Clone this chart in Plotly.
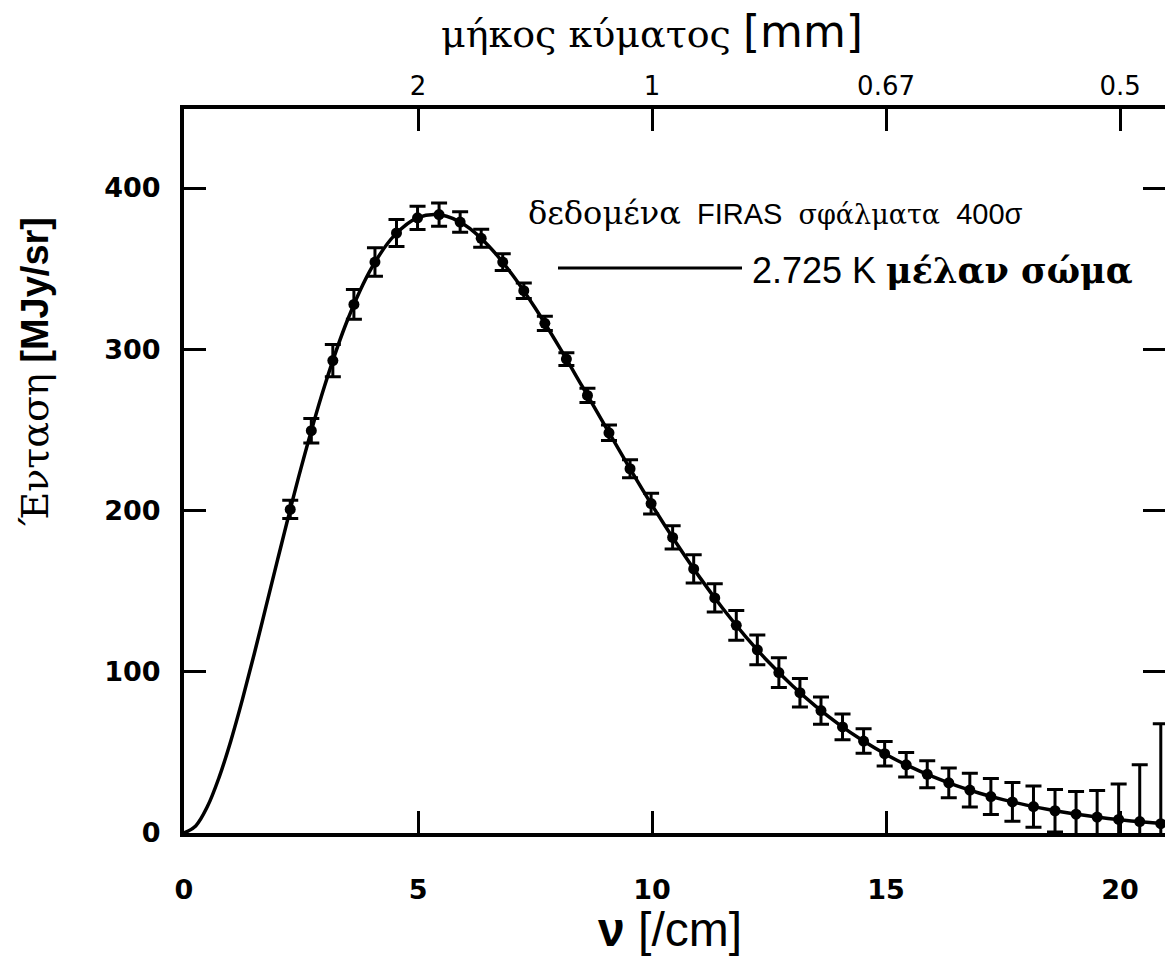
import plotly.graph_objects as go

# FIRAS data
nu = [2.27, 2.72, 3.18, 3.63, 4.08, 4.54, 4.99, 5.45, 5.90, 6.35, 6.81, 7.26, 7.71, 8.17,
      8.62, 9.08, 9.53, 9.98, 10.44, 10.89, 11.34, 11.80, 12.25, 12.71, 13.16, 13.61,
      14.07, 14.52, 14.97, 15.43, 15.88, 16.34, 16.79, 17.24, 17.70, 18.15, 18.61, 19.06,
      19.51, 19.97, 20.42, 20.87, 21.33]
intensity = [200.7, 249.5, 293.0, 327.8, 354.1, 372.1, 381.5, 383.5, 378.9, 368.8, 354.1,
             336.3, 316.1, 293.9, 271.4, 248.2, 225.9, 204.3, 183.3, 163.8, 145.8, 128.8,
             113.6, 99.5, 87.0, 75.9, 65.8, 57.0, 49.2, 42.3, 36.4, 31.1, 26.6, 22.6, 19.3,
             16.4, 13.8, 11.7, 9.9, 8.4, 7.1, 5.8, 4.5]
err400 = [5.6, 7.6, 10.0, 9.2, 8.8, 8.4, 7.2, 7.2, 6.4, 5.6, 5.2, 4.8, 4.4, 4.0, 4.4, 4.8,
          5.6, 6.4, 7.2, 8.8, 8.8, 9.2, 9.2, 9.2, 8.8, 8.4, 8.0, 7.6, 7.6, 7.6, 8.4, 9.2,
          10.4, 11.2, 12.0, 12.8, 13.2, 14.0, 16.4, 22.0, 35.2, 62.0, 112.8]

# 2.725 K blackbody curve
bb_nu = [0, 0.25, 0.5, 0.75, 1.0, 1.25, 1.5, 1.75, 2.0, 2.5, 3.0, 3.5, 4.0, 4.5, 5.0, 5.5,
         6.0, 6.5, 7.0, 7.5, 8.0, 8.5, 9.0, 9.5, 10.0, 10.5, 11.0, 11.5, 12.0, 12.5, 13.0,
         13.5, 14.0, 14.5, 15.0, 15.5, 16.0, 16.5, 17.0, 17.5, 18.0, 18.5, 19.0, 19.5,
         20.0, 20.5, 21.0, 21.5]
bb_int = [0, 4.4, 16.4, 34.5, 57.1, 83.0, 111.0, 140.2, 169.5, 226.3, 276.9, 318.6, 350.0,
          370.8, 381.7, 383.2, 377.0, 364.4, 346.8, 325.7, 302.2, 277.4, 252.3, 227.4,
          203.3, 180.6, 159.3, 139.7, 121.8, 105.7, 91.3, 78.5, 67.2, 57.35, 48.74, 41.30,
          34.89, 29.38, 24.68, 20.67, 17.28, 14.40, 11.98, 9.95, 8.24, 6.82, 5.63, 4.64]

x_ticks = [0, 5, 10, 15, 20]
y_ticks = [0, 100, 200, 300, 400]
top_tickvals = [5, 10, 15, 20]
top_ticktext = ["2", "1", "0.67", "0.5"]

SANS = "DejaVu Sans"
SANS2 = "Liberation Sans"
SERIF = "DejaVu Serif"
XMAX = 20.96
YMAX = 449

fig = go.Figure()
fig.add_trace(go.Scatter(
    x=nu, y=intensity, mode="markers",
    marker=dict(color="black", size=11, symbol="circle"),
    error_y=dict(type="data", array=err400, visible=True, color="black", thickness=3, width=8),
    showlegend=False, hoverinfo="x+y"))
fig.add_trace(go.Scatter(
    x=bb_nu, y=bb_int, mode="lines", line=dict(color="black", width=3.5, shape="spline"),
    xaxis="x2", yaxis="y2", showlegend=False))

axis_common = dict(showgrid=False, zeroline=False, ticks="inside", ticklen=22, tickwidth=3,
                   tickcolor="black", linecolor="black", linewidth=4)

fig.update_layout(
    width=1165, height=960,
    margin=dict(l=184, r=0, t=109, b=127),
    paper_bgcolor="white", plot_bgcolor="white",
    xaxis=dict(range=[0, XMAX], tickvals=x_ticks, showline=True,
               tickfont=dict(family=SANS, size=27, color="black", weight="bold"),
               ticklabelstandoff=30, **axis_common),
    xaxis2=dict(range=[0, XMAX], overlaying="x", side="top", anchor="y2",
                tickvals=top_tickvals, ticktext=top_ticktext, showline=True,
                tickfont=dict(family=SANS, size=26, color="black"),
                ticklabelstandoff=0, **axis_common),
    yaxis=dict(range=[0, YMAX], tickvals=y_ticks, showline=True,
               tickfont=dict(family=SANS, size=27, color="black", weight="bold"),
               ticklabelstandoff=14, **axis_common),
    yaxis2=dict(range=[0, YMAX], overlaying="y", side="right", anchor="x2",
                tickvals=y_ticks[1:], showticklabels=False, showline=False,
                **axis_common),
)

def px_x(p):
    return (p - 184) / 981.0

def px_y(p):
    return (833 - p) / 724.0

ann = [
    dict(text=(f"<span style='font-family:{SERIF}'>μήκος κύματος</span> "
               f"<span style='font-size:44px'>[mm]</span>"),
         x=px_x(652), y=px_y(31), xanchor="center", yanchor="middle",
         font=dict(family=SANS, size=38, color="black")),
    dict(text=f"<span style='font-family:{SERIF}'>Ένταση</span> <b>[MJy/sr]</b>",
         x=px_x(35), y=px_y(372), xanchor="center", yanchor="middle", textangle=-90,
         font=dict(family=SANS2, size=38, color="black")),
    dict(text="<b>ν</b> [/cm]",
         x=px_x(670), y=px_y(929), xanchor="center", yanchor="middle",
         font=dict(family=SANS2, size=48, color="black")),
    dict(text=(f"<span style='font-family:{SERIF};font-size:32px'>δεδομένα</span>  FIRAS  "
               f"<span style='font-family:{SERIF};font-size:27px'>σφάλματα</span>  400σ"),
         x=px_x(526), y=px_y(213), xanchor="left", yanchor="middle",
         font=dict(family=SANS2, size=29, color="black")),
    dict(text=f"2.725 K <b><span style='font-family:{SERIF};font-size:35px'>μέλαν σώμα</span></b>",
         x=px_x(750), y=px_y(270), xanchor="left", yanchor="middle",
         font=dict(family=SANS2, size=36, color="black")),
]
for a in ann:
    a.update(xref="paper", yref="paper", showarrow=False)
fig.update_layout(annotations=ann)

fig.add_shape(type="line", xref="paper", yref="paper",
              x0=px_x(558), x1=px_x(742), y0=px_y(268), y1=px_y(268),
              line=dict(color="black", width=3))

fig.write_html("out.html", config={"displayModeBar": False},
               post_script="document.body.style.margin='0';")
